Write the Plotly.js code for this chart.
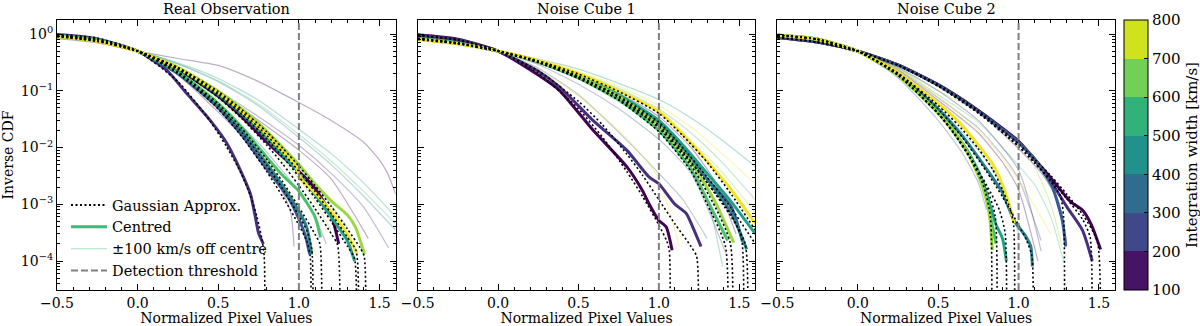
<!DOCTYPE html>
<html><head><meta charset="utf-8">
<script src="https://cdn.plot.ly/plotly-3.0.1.min.js"></script>
<style>html,body{margin:0;padding:0;background:#fff}#chart{width:1200px;height:326px}</style>
</head><body><div id="chart"></div>
<script>
// ---------- shared ----------
const detectionThreshold = 1.0;
const panelTitles = ['Real Observation', 'Noise Cube 1', 'Noise Cube 2'];
const yTickVals = [1e-4, 1e-3, 1e-2, 1e-1, 1];
const yTickText = ['10<sup>\u22124</sup>', '10<sup>\u22123</sup>', '10<sup>\u22122</sup>', '10<sup>\u22121</sup>', '10<sup>0</sup>'];
const cbTicks = [100, 200, 300, 400, 500, 600, 700, 800];
const legendNames = ['Gaussian Approx.', 'Centred', '\u00b1100 km/s off centre', 'Detection threshold'];

// ---------- Panel 1: Real Observation ----------
const realCentredW = [100, 200, 300, 400, 500, 600, 700, 800];
const realCentredX = [
  [-0.5,-0.25,0,0.25,0.5,0.65,0.8,0.9,1.0,1.1,1.2,1.247],
  [-0.5,-0.27,0,0.18,0.305,0.45,0.554,0.637,0.7,0.73,0.75,0.78],
  [-0.5,-0.25,0,0.25,0.5,0.65,0.8,0.9,0.95,1.0,1.04,1.067],
  [-0.5,-0.25,0,0.25,0.5,0.65,0.8,0.9,1.0,1.05,1.08],
  [-0.5,-0.25,0,0.25,0.5,0.65,0.8,0.9,1.0,1.1,1.2,1.3,1.345],
  [-0.5,-0.25,0,0.25,0.5,0.65,0.8,0.9,1.0,1.1,1.134],
  [-0.5,-0.25,0,0.25,0.5,0.65,0.8,0.9,1.0,1.1,1.2,1.3,1.35,1.407],
  [-0.5,-0.25,0,0.25,0.5,0.65,0.8,0.9,0.97,1.02,1.1,1.2,1.3,1.36]
];
const realCentredY = [
  [0.923,0.762,0.5,0.24,0.08,0.034,0.0125,0.0068,0.0038,0.0019,6.5e-4,2e-4],
  [0.98,0.84,0.5,0.23,0.089,0.03,0.0118,0.004,0.0015,6e-4,3.1e-4,2e-4],
  [0.952,0.798,0.5,0.2,0.05,0.016,0.0042,0.0018,1.1e-3,5.5e-4,2.8e-4,1.3e-4],
  [0.947,0.79,0.5,0.21,0.054,0.019,0.0052,0.0021,7.5e-4,3.8e-4,1.3e-4],
  [0.915,0.753,0.5,0.247,0.086,0.038,0.0145,0.0072,0.0036,0.0015,6e-4,2.3e-4,1.0e-4],
  [0.941,0.782,0.5,0.217,0.06,0.022,0.0068,0.0032,0.0017,6e-4,2.6e-4],
  [0.903,0.742,0.5,0.258,0.098,0.047,0.0195,0.01,0.005,0.0023,0.00115,6.5e-4,4e-4,1.3e-4],
  [0.909,0.748,0.5,0.252,0.092,0.042,0.017,0.0085,0.0052,0.0027,0.0016,7.5e-4,3e-4,1.35e-4]
];
const realGaussX = [
  [-0.5,-0.25,0,0.25,0.5,0.65,0.8,0.9,1.0,1.1,1.2,1.24,1.25],
  [-0.5,-0.25,0,0.25,0.45,0.55,0.64,0.7,0.74,0.77,0.785,0.788],
  [-0.5,-0.25,0,0.25,0.5,0.65,0.8,0.9,1.0,1.05,1.07,1.073],
  [-0.5,-0.25,0,0.25,0.5,0.65,0.8,0.9,1.0,1.05,1.08,1.083],
  [-0.5,-0.25,0,0.25,0.5,0.65,0.8,0.9,1.0,1.1,1.2,1.3,1.345,1.348],
  [-0.5,-0.25,0,0.25,0.5,0.65,0.8,0.9,1.0,1.1,1.13,1.137],
  [-0.5,-0.25,0,0.25,0.5,0.65,0.8,0.9,1.0,1.1,1.2,1.3,1.38,1.405,1.41],
  [-0.5,-0.25,0,0.25,0.5,0.65,0.8,0.9,1.0,1.1,1.2,1.3,1.355,1.36]
];
const realGaussY = [
  [0.923,0.762,0.5,0.238,0.0764,0.0316,0.0111,0.0051,0.00214,8.4e-4,3.05e-4,1.9e-4,1e-7],
  [0.98,0.85,0.5,0.145,0.029,0.0105,0.0036,0.0014,6e-4,2.5e-4,1.2e-4,1e-7],
  [0.952,0.798,0.5,0.202,0.0478,0.0151,0.0038,0.00135,4.3e-4,2.2e-4,1.2e-4,1e-7],
  [0.947,0.79,0.5,0.21,0.0533,0.018,0.0049,0.00185,6.3e-4,3.4e-4,1.6e-4,1e-7],
  [0.915,0.753,0.5,0.247,0.0853,0.0374,0.0142,0.0068,0.00307,0.00129,5.0e-4,1.84e-4,1.1e-4,1e-7],
  [0.941,0.782,0.5,0.217,0.059,0.0211,0.0062,0.00246,8.9e-4,2.95e-4,2.0e-4,1e-7],
  [0.903,0.742,0.5,0.258,0.097,0.0457,0.0189,0.0097,0.0047,0.00214,9.2e-4,3.7e-4,1.7e-4,1.2e-4,1e-7],
  [0.909,0.748,0.5,0.252,0.091,0.0415,0.0165,0.0082,0.0038,0.00168,6.9e-4,2.64e-4,1.5e-4,1e-7]
];
const realOffW = [100, 500, 600, 400, 200, 100, 100, 800, 300, 700, 600, 800];
const realOffX = [
  [-0.5,-0.25,0,0.25,0.5,0.75,1.0,1.2,1.4,1.5,1.55,1.6],
  [-0.5,-0.25,0,0.25,0.5,0.75,1.0,1.2,1.4,1.6],
  [-0.5,-0.25,0,0.25,0.5,0.75,1.0,1.2,1.4,1.6],
  [-0.5,-0.25,0,0.25,0.5,0.75,1.0,1.2,1.4,1.6],
  [-0.5,-0.25,0,0.25,0.5,0.75,1.0,1.2,1.4,1.556],
  [-0.5,-0.25,0,0.25,0.5,0.75,1.0,1.2,1.43],
  [-0.5,-0.25,0,0.25,0.5,0.7,0.8,0.9,0.95,0.97],
  [-0.5,-0.25,0,0.25,0.5,0.7,0.8,0.9,1.0,1.11],
  [-0.5,-0.25,0,0.25,0.5,0.75,1.0,1.1,1.17],
  [-0.5,-0.25,0,0.25,0.5,0.75,1.0,1.1,1.2],
  [-0.5,-0.25,0,0.25,0.5,0.75,1.0,1.15,1.3],
  [-0.5,-0.25,0,0.25,0.5,0.75,0.9,1.0,1.05]
];
const realOffY = [
  [0.83,0.7,0.5,0.37,0.28,0.145,0.062,0.03,0.0125,0.006,0.0035,0.0015],
  [0.87,0.72,0.5,0.31,0.165,0.068,0.021,0.0078,0.0024,6e-4],
  [0.88,0.73,0.5,0.3,0.15,0.058,0.017,0.0058,0.0017,4.5e-4],
  [0.885,0.735,0.5,0.295,0.145,0.054,0.015,0.005,0.0014,3.5e-4],
  [0.9,0.74,0.5,0.26,0.1,0.035,0.011,0.0035,9e-4,1.7e-4],
  [0.9,0.745,0.5,0.255,0.095,0.03,0.009,0.0028,2.5e-4],
  [0.96,0.81,0.5,0.19,0.042,0.011,0.0046,0.0016,7e-4,1.8e-4],
  [0.955,0.8,0.5,0.2,0.047,0.0125,0.0058,0.0022,7e-4,1.2e-4],
  [0.94,0.78,0.5,0.22,0.06,0.012,0.0017,6e-4,2e-4],
  [0.93,0.77,0.5,0.23,0.07,0.017,0.0028,1.1e-3,3.5e-4],
  [0.92,0.76,0.5,0.24,0.08,0.022,0.0045,1.5e-3,4e-4],
  [0.95,0.79,0.5,0.21,0.052,0.009,0.0025,9e-4,3e-4]
];

// ---------- Panel 2: Noise Cube 1 ----------
const noise1CentredW = [100, 200, 300, 400, 500, 600, 700, 800];
const noise1CentredX = [
  [-0.5,-0.25,0,0.25,0.38,0.59,0.8,0.9,0.94,1.0,1.045,1.082],
  [-0.5,-0.25,0,0.25,0.38,0.59,0.8,0.94,1.0,1.1,1.17,1.21,1.262],
  [-0.5,-0.25,0,0.25,0.5,0.75,1.0,1.15,1.3,1.45,1.52],
  [-0.5,-0.25,0,0.25,0.5,0.75,1.0,1.15,1.3,1.45,1.546],
  [-0.5,-0.25,0,0.25,0.5,0.75,1.0,1.15,1.3,1.45,1.6],
  [-0.5,-0.25,0,0.25,0.5,0.75,1.0,1.19,1.314,1.428],
  [-0.5,-0.25,0,0.25,0.5,0.75,1.0,1.2,1.35,1.465],
  [-0.5,-0.25,0,0.25,0.5,0.75,1.0,1.15,1.314,1.45,1.6]
];
const noise1CentredY = [
  [0.97,0.81,0.5,0.19,0.103,0.0203,0.0046,0.0017,1.0e-3,5.2e-4,4e-4,1.55e-4],
  [0.95,0.79,0.5,0.22,0.118,0.03,0.009,0.003,2.3e-3,1.0e-3,6.9e-4,4e-4,1.8e-4],
  [0.84,0.7,0.5,0.32,0.17,0.075,0.025,0.0088,0.0028,9e-4,2.2e-4],
  [0.83,0.69,0.5,0.325,0.18,0.08,0.027,0.0095,0.0028,7e-4,1.6e-4],
  [0.82,0.68,0.5,0.33,0.185,0.085,0.03,0.011,0.0035,1.1e-3,3e-4],
  [0.83,0.69,0.5,0.32,0.17,0.07,0.02,0.0046,1.0e-3,2.3e-4],
  [0.82,0.68,0.5,0.33,0.18,0.08,0.024,0.0055,1.1e-3,2.1e-4],
  [0.8,0.67,0.5,0.34,0.2,0.1,0.043,0.017,0.0052,0.0018,4.5e-4]
];
const noise1GaussX = [
  [-0.5,-0.25,0,0.25,0.5,0.65,0.8,0.9,1.0,1.05,1.065,1.068],
  [-0.5,-0.25,0,0.25,0.5,0.65,0.8,0.9,1.0,1.1,1.2,1.235,1.238],
  [-0.5,-0.25,0,0.25,0.5,0.75,1.0,1.15,1.3,1.45,1.514,1.517],
  [-0.5,-0.25,0,0.25,0.5,0.75,1.0,1.15,1.3,1.45,1.537,1.54],
  [-0.5,-0.25,0,0.25,0.5,0.75,1.0,1.15,1.3,1.45,1.6],
  [-0.5,-0.25,0,0.25,0.5,0.75,1.0,1.2,1.3,1.414,1.418],
  [-0.5,-0.25,0,0.25,0.5,0.75,1.0,1.2,1.35,1.445,1.449],
  [-0.5,-0.25,0,0.25,0.5,0.75,1.0,1.15,1.3,1.45,1.6]
];
const noise1GaussY = [
  [0.952,0.798,0.5,0.202,0.0478,0.0151,0.0038,0.00135,4.3e-4,2.2e-4,1.5e-4,1e-7],
  [0.935,0.775,0.5,0.225,0.065,0.025,0.0077,0.0032,1.2e-3,4.5e-4,1.8e-4,1.2e-4,1e-7],
  [0.84,0.7,0.5,0.315,0.165,0.07,0.023,0.008,0.0024,6.5e-4,2.5e-4,1e-7],
  [0.83,0.69,0.5,0.32,0.175,0.077,0.025,0.0085,0.0024,6e-4,2e-4,1e-7],
  [0.82,0.68,0.5,0.328,0.18,0.081,0.028,0.0098,0.003,8.5e-4,2e-4],
  [0.83,0.69,0.5,0.32,0.168,0.068,0.019,0.0038,1.0e-3,1.8e-4,1e-7],
  [0.82,0.68,0.5,0.33,0.178,0.078,0.022,0.0048,9e-4,2.0e-4,1e-7],
  [0.8,0.67,0.5,0.338,0.197,0.097,0.04,0.016,0.0055,0.0015,3.5e-4]
];
const noise1OffW = [500, 800, 600, 100, 100, 500, 300, 800, 300, 700];
const noise1OffX = [
  [-0.5,-0.25,0,0.25,0.5,0.75,1.0,1.2,1.4,1.6],
  [-0.5,-0.25,0,0.25,0.5,0.75,1.0,1.2,1.4,1.6],
  [-0.5,-0.25,0,0.25,0.5,0.75,1.0,1.2,1.4,1.6],
  [-0.5,-0.25,0,0.25,0.5,0.75,1.0,1.2,1.35,1.48],
  [-0.5,-0.25,0,0.25,0.5,0.75,1.0,1.2,1.334],
  [-0.5,-0.25,0,0.25,0.5,0.75,1.0,1.2,1.3,1.396],
  [-0.5,-0.25,0,0.25,0.5,0.8,1.0,1.15,1.3],
  [-0.5,-0.25,0,0.25,0.5,0.75,0.9,1.0,1.127],
  [-0.5,-0.25,0,0.25,0.5,0.75,1.0,1.2,1.42],
  [-0.5,-0.25,0,0.25,0.5,0.75,1.0,1.2,1.4,1.6]
];
const noise1OffY = [
  [0.78,0.65,0.5,0.36,0.24,0.135,0.07,0.033,0.013,0.0046],
  [0.79,0.66,0.5,0.35,0.22,0.12,0.055,0.023,0.0075,0.0023],
  [0.8,0.67,0.5,0.34,0.21,0.11,0.048,0.018,0.0052,0.0012],
  [0.82,0.68,0.5,0.33,0.19,0.09,0.035,0.01,0.0025,3e-4],
  [0.83,0.69,0.5,0.32,0.17,0.075,0.025,0.0055,6e-4],
  [0.84,0.7,0.5,0.31,0.16,0.065,0.02,0.004,1.3e-3,8e-5],
  [0.9,0.75,0.5,0.25,0.085,0.0135,0.0035,1.2e-3,2.5e-4],
  [0.93,0.77,0.5,0.24,0.08,0.02,0.007,0.0028,1.8e-4],
  [0.86,0.72,0.5,0.29,0.13,0.048,0.014,0.0035,1.3e-4],
  [0.81,0.67,0.5,0.34,0.2,0.1,0.04,0.013,0.0035,7e-4]
];

// ---------- Panel 3: Noise Cube 2 ----------
const noise2CentredW = [100, 200, 300, 400, 500, 600, 700, 800];
const noise2CentredX = [
  [-0.5,-0.25,0,0.25,0.5,0.75,0.993,1.086,1.21,1.324,1.397,1.45,1.51],
  [-0.5,-0.25,0,0.25,0.5,0.75,1.0,1.1,1.21,1.3,1.397,1.458],
  [-0.5,-0.25,0,0.25,0.5,0.75,0.993,1.107,1.21,1.272,1.293],
  [-0.5,-0.25,0,0.25,0.5,0.65,0.8,0.9,0.97,1.0,1.045,1.076,1.086],
  [-0.5,-0.25,0,0.25,0.5,0.6,0.7,0.78,0.858,0.9,0.924],
  [-0.5,-0.25,0,0.25,0.5,0.6,0.7,0.78,0.86],
  [-0.5,-0.25,0,0.25,0.5,0.6,0.69,0.775,0.817,0.837],
  [-0.5,-0.25,0,0.25,0.5,0.63,0.75,0.837,0.9,0.941,0.972]
];
const noise2CentredY = [
  [0.87,0.72,0.5,0.285,0.128,0.045,0.0135,0.0069,0.0027,0.0011,7.9e-4,4.5e-4,1.6e-4],
  [0.87,0.72,0.5,0.285,0.127,0.044,0.0125,0.006,0.0023,9e-4,3.5e-4,1.0e-4],
  [0.875,0.72,0.5,0.283,0.125,0.043,0.0126,0.006,0.002,5.2e-4,1.8e-4],
  [0.952,0.8,0.5,0.2,0.048,0.016,0.0042,0.0016,5.2e-4,4.0e-4,2.7e-4,1.8e-4,8e-5],
  [0.96,0.81,0.5,0.19,0.042,0.019,0.0072,2.4e-3,4.5e-4,2.5e-4,1.0e-4],
  [0.96,0.81,0.5,0.19,0.041,0.018,0.0068,2.1e-3,2.0e-4],
  [0.965,0.815,0.5,0.188,0.04,0.019,0.0075,2.1e-3,7e-4,1.55e-4],
  [0.95,0.8,0.5,0.21,0.06,0.028,0.011,0.0052,0.0022,1.0e-3,4.6e-4]
];
const noise2GaussX = [
  [-0.5,-0.25,0,0.25,0.5,0.75,1.0,1.1,1.2,1.3,1.4,1.49,1.5],
  [-0.5,-0.25,0,0.25,0.5,0.75,1.0,1.1,1.2,1.3,1.4,1.445,1.449],
  [-0.5,-0.25,0,0.25,0.5,0.75,1.0,1.1,1.2,1.26,1.28,1.283],
  [-0.5,-0.25,0,0.25,0.5,0.65,0.8,0.9,1.0,1.05,1.083,1.086],
  [-0.5,-0.25,0,0.25,0.5,0.6,0.7,0.8,0.88,0.917,0.92],
  [-0.5,-0.25,0,0.25,0.5,0.6,0.7,0.8,0.855,0.858],
  [-0.5,-0.25,0,0.25,0.5,0.6,0.7,0.78,0.825,0.827],
  [-0.5,-0.25,0,0.25,0.5,0.63,0.75,0.837,0.9,0.95,0.97,0.972]
];
const noise2GaussY = [
  [0.872,0.715,0.5,0.285,0.128,0.0446,0.0116,0.0062,0.0032,1.5e-3,6.5e-4,2.2e-4,1e-7],
  [0.87,0.715,0.5,0.28,0.122,0.042,0.0105,0.0055,0.0027,1.25e-3,5.3e-4,2.6e-4,1e-7],
  [0.875,0.72,0.5,0.28,0.12,0.04,0.0105,0.0053,0.0025,1.4e-3,6e-4,1e-7],
  [0.952,0.798,0.5,0.202,0.0478,0.0151,0.0038,0.00135,4.3e-4,2.3e-4,1.2e-4,1e-7],
  [0.96,0.81,0.5,0.19,0.04,0.018,0.0068,2.2e-3,8e-4,3e-4,1e-7],
  [0.96,0.81,0.5,0.19,0.04,0.0178,0.0066,2e-3,6e-4,1e-7],
  [0.965,0.815,0.5,0.188,0.039,0.0172,0.0063,2.2e-3,6e-4,1e-7],
  [0.95,0.8,0.5,0.205,0.055,0.024,0.0095,0.0042,0.0018,8e-4,4e-4,1e-7]
];
const noise2OffW = [100, 700, 300, 100, 600, 300, 800, 500, 200];
const noise2OffX = [
  [-0.5,-0.25,0,0.25,0.5,0.75,1.0,1.15,1.25,1.3],
  [-0.5,-0.25,0,0.25,0.5,0.75,0.9,1.05,1.2,1.27],
  [-0.5,-0.25,0,0.25,0.5,0.75,0.9,1.0,1.14],
  [-0.5,-0.25,0,0.25,0.5,0.75,0.9,1.0,1.12],
  [-0.5,-0.25,0,0.25,0.5,0.75,0.9,1.0,1.1,1.2,1.28],
  [-0.5,-0.25,0,0.25,0.5,0.65,0.75,0.8],
  [-0.5,-0.25,0,0.25,0.5,0.75,0.9,1.05,1.2],
  [-0.5,-0.25,0,0.25,0.5,0.75,0.9,1.0],
  [-0.5,-0.25,0,0.25,0.5,0.75,1.0,1.14]
];
const noise2OffY = [
  [0.87,0.73,0.5,0.28,0.12,0.042,0.0095,0.0033,1.1e-3,2e-4],
  [0.9,0.76,0.5,0.25,0.1,0.043,0.022,0.0085,1.0e-3,1.8e-4],
  [0.92,0.77,0.5,0.24,0.075,0.022,0.0072,0.0028,2.3e-4],
  [0.93,0.78,0.5,0.23,0.068,0.018,0.0055,0.0018,1e-4],
  [0.91,0.76,0.5,0.25,0.085,0.028,0.01,0.0048,2.2e-3,6e-4,1e-4],
  [0.97,0.83,0.5,0.17,0.03,0.008,0.0024,8e-4],
  [0.92,0.77,0.5,0.24,0.08,0.02,0.0065,0.0016,3e-4],
  [0.95,0.8,0.5,0.2,0.05,0.009,0.0022,3e-4],
  [0.9,0.75,0.5,0.26,0.1,0.03,0.004,1.5e-4]
];

// ---------- styling ----------
const lineColor = {100:'#440154',200:'#46307e',300:'#375b8d',400:'#277f8e',500:'#1fa187',600:'#4cc26c',700:'#9bd93c',800:'#f4e41f'};
const binColors = ['#471365','#3f4889','#2f6c8e','#21918c','#31b27b','#73cf55','#cfe11f'];
const legendGreen = '#3dbb74';
const gaussDash = '2px,2.5px';
const threshDash = '7px,3px';
const TICK_FS = 14, LABEL_FS = 14, LEG_FS = 14.5, CB_FS = 15;

const panels = [
  {s:'',  cW:realCentredW,   cX:realCentredX,   cY:realCentredY,   gX:realGaussX,   gY:realGaussY,   oW:realOffW,   oX:realOffX,   oY:realOffY},
  {s:'2', cW:noise1CentredW, cX:noise1CentredX, cY:noise1CentredY, gX:noise1GaussX, gY:noise1GaussY, oW:noise1OffW, oX:noise1OffX, oY:noise1OffY},
  {s:'3', cW:noise2CentredW, cX:noise2CentredX, cY:noise2CentredY, gX:noise2GaussX, gY:noise2GaussY, oW:noise2OffW, oX:noise2OffX, oY:noise2OffY}
];

const traces = [];
panels.forEach(p => {
  const xa = 'x' + p.s, ya = 'y' + p.s;
  p.oW.forEach((w, i) => traces.push({type:'scatter', mode:'lines', x:p.oX[i], y:p.oY[i], xaxis:xa, yaxis:ya,
    line:{color:lineColor[w], width:1.2, shape:'spline', smoothing:0.6}, opacity:0.33, showlegend:false, hoverinfo:'skip'}));
  p.cW.forEach((w, i) => traces.push({type:'scatter', mode:'lines', x:p.cX[i], y:p.cY[i], xaxis:xa, yaxis:ya,
    line:{color:lineColor[w], width:3, shape:'spline', smoothing:0.6}, showlegend:false, hoverinfo:'skip'}));
  p.gX.forEach((gx, i) => traces.push({type:'scatter', mode:'lines', x:gx, y:p.gY[i], xaxis:xa, yaxis:ya,
    line:{color:'#000', width:1.6, dash:gaussDash, shape:'spline', smoothing:0.6}, showlegend:false, hoverinfo:'skip'}));
});

// legend entries
traces.push({type:'scatter', mode:'lines', x:[null], y:[null], name:legendNames[0], line:{color:'#000', width:2, dash:gaussDash}});
traces.push({type:'scatter', mode:'lines', x:[null], y:[null], name:legendNames[1], line:{color:legendGreen, width:3}});
traces.push({type:'scatter', mode:'lines', x:[null], y:[null], name:legendNames[2], line:{color:legendGreen, width:1.2}, opacity:0.35});
traces.push({type:'scatter', mode:'lines', x:[null], y:[null], name:legendNames[3], line:{color:'#808080', width:2, dash:threshDash}});

// colorbar carrier
const scale = [];
binColors.forEach((c, i) => { scale.push([i / binColors.length, c]); scale.push([(i + 1) / binColors.length, c]); });
traces.push({type:'scatter', mode:'markers', x:[null], y:[null], xaxis:'x3', yaxis:'y3', showlegend:false, hoverinfo:'skip',
  marker:{color:[cbTicks[0]], cmin:cbTicks[0], cmax:cbTicks[cbTicks.length-1], colorscale:scale, showscale:true,
    colorbar:{x:1124/1200, xanchor:'left', y:1-155/326, yanchor:'middle', len:270/326, lenmode:'fraction', thickness:24,
      outlinewidth:1, outlinecolor:'#000', xpad:0, ypad:0, tickvals:cbTicks, ticks:'inside', ticklen:4, tickcolor:'#000',
      tickfont:{size:CB_FS}, title:{text:'Integration width [km/s]', side:'right', font:{size:CB_FS}}}}});

// minor log ticks
const yMinor = [];
for (let p = -5; p <= 0; p++) for (let k = 2; k <= 9; k++) yMinor.push(k * Math.pow(10, p));

const xDomains = [[57/1200, 396/1200], [418/1200, 756/1200], [778/1200, 1116/1200]];
const yDomain = [1 - 290/326, 1 - 20/326];

function xAxis(i) {
  return {domain:xDomains[i], range:[-0.5, 1.6], anchor:'y' + (i ? i + 1 : ''), tick0:0, dtick:0.5, tickformat:'.1f',
    ticks:'inside', ticklen:6, tickwidth:1, tickcolor:'#000', mirror:'allticks', showline:true, linecolor:'#000', linewidth:1,
    showgrid:false, zeroline:false, tickfont:{size:TICK_FS},
    minor:{dtick:0.1, ticks:'inside', ticklen:3, tickcolor:'#000', showgrid:false},
    title:{text:'Normalized Pixel Values', font:{size:LABEL_FS}, standoff:6}};
}
function yAxis(i) {
  const a = {domain:yDomain, type:'log', range:[-4.511, 0.247], anchor:'x' + (i ? i + 1 : ''),
    tickmode:'array', tickvals:yTickVals, ticktext:yTickText,
    ticks:'inside', ticklen:6, tickwidth:1, tickcolor:'#000', mirror:'allticks', showline:true, linecolor:'#000', linewidth:1,
    showgrid:false, zeroline:false, tickfont:{size:TICK_FS},
    minor:{tickmode:'array', tickvals:yMinor, ticks:'inside', ticklen:3, tickcolor:'#000', showgrid:false}};
  if (i === 0) a.title = {text:'Inverse CDF', font:{size:LABEL_FS}, standoff:5};
  else { a.showticklabels = false; a.matches = 'y'; }
  return a;
}

const layout = {
  width:1200, height:326, margin:{l:0, r:0, t:0, b:0}, paper_bgcolor:'#fff', plot_bgcolor:'#fff',
  font:{family:'DejaVu Serif, serif', color:'#000', size:TICK_FS},
  xaxis:xAxis(0), xaxis2:xAxis(1), xaxis3:xAxis(2),
  yaxis:yAxis(0), yaxis2:yAxis(1), yaxis3:yAxis(2),
  showlegend:true,
  legend:{x:66/1200, y:1 - 287/326, xanchor:'left', yanchor:'bottom', bgcolor:'rgba(0,0,0,0)', font:{size:LEG_FS},
    tracegroupgap:0, itemwidth:36},
  shapes:['x','x2','x3'].map(xr => ({type:'line', xref:xr, yref:xr.replace('x','y') + ' domain', x0:detectionThreshold, x1:detectionThreshold, y0:0, y1:1,
    line:{color:'#808080', width:2, dash:threshDash}, layer:'above'})),
  annotations:panelTitles.map((t, i) => ({text:t, xref:'x' + (i ? i + 1 : '') + ' domain', x:0.5, yref:'paper', y:1 - 9/326,
    xanchor:'center', yanchor:'middle', showarrow:false, font:{size:LEG_FS}}))
};

Plotly.newPlot('chart', traces, layout, {displayModeBar:false, staticPlot:true});
</script>
</body></html>
